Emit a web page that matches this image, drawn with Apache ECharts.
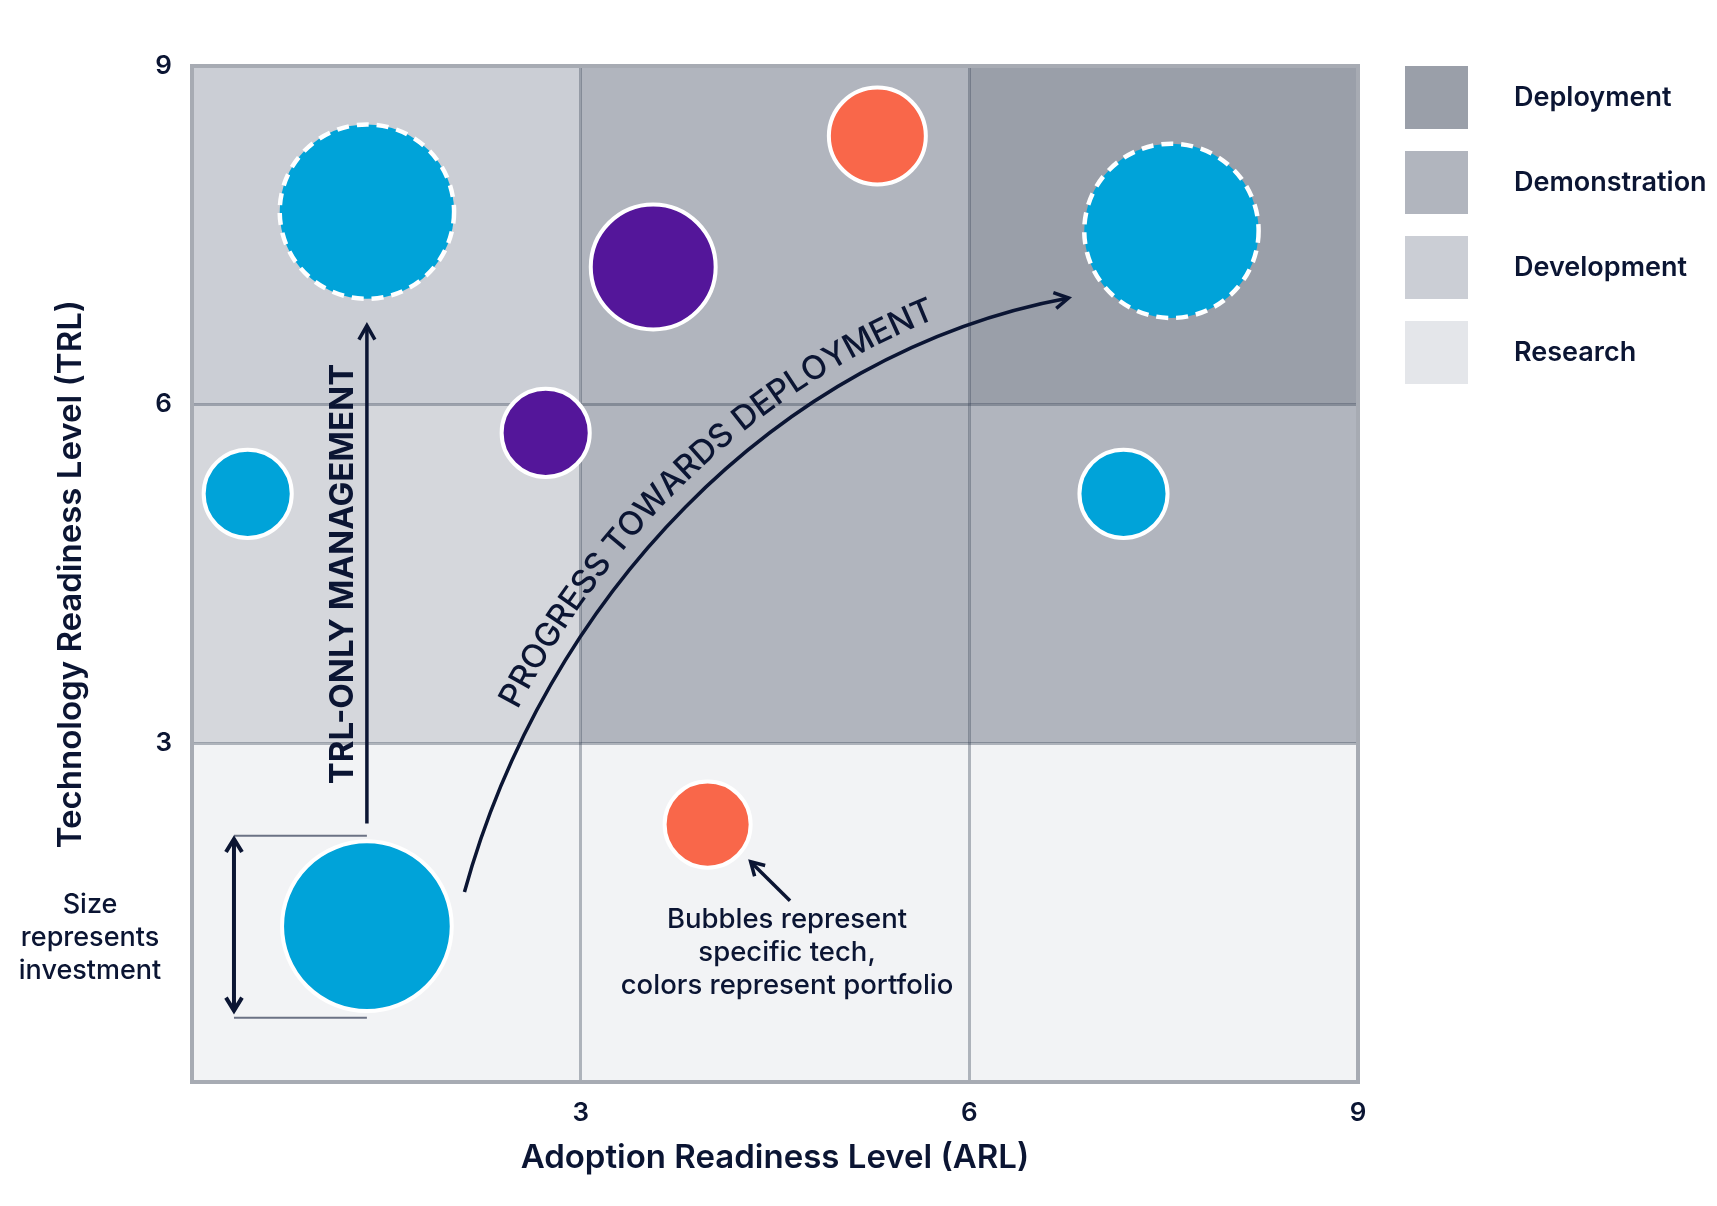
<!DOCTYPE html>
<html><head><meta charset="utf-8">
<style>html,body{margin:0;padding:0;background:#fff}#c{width:1717px;height:1206px}</style>
<script src="https://cdn.jsdelivr.net/npm/echarts@6/dist/echarts.min.js"></script>
</head><body><div id="c"></div>
<script>
// ---------------- data ----------------
const stageNames = ['Deployment', 'Demonstration', 'Development', 'Research'];
// readiness cells: [ARL from, TRL from, ARL to, TRL to, stage]
const cellRanges = [
  [0, 0, 9, 3, 'Research'],
  [0, 3, 3, 6, 'Development'],
  [0, 6, 3, 9, 'Development'],
  [3, 3, 6, 9, 'Demonstration'],
  [6, 3, 9, 6, 'Demonstration'],
  [6, 6, 9, 9, 'Deployment']
];
const tickValues = [3, 6, 9];
const xTickLabels = ['3', '6', '9'];
const yTickLabels = ['3', '6', '9'];
// bubbles (ARL, TRL, investment)
const portfolioA_arl = [0.43, 7.19, 1.35];
const portfolioA_trl = [5.21, 5.21, 1.38];
const portfolioA_inv = [19.4, 19.4, 72];
const portfolioA_target_arl = [1.35, 7.56];
const portfolioA_target_trl = [7.71, 7.54];
const portfolioA_target_inv = [76, 76];
const portfolioB_arl = [3.56, 2.73];
const portfolioB_trl = [7.22, 5.75];
const portfolioB_inv = [39, 19.4];
const portfolioC_arl = [5.29, 3.98];
const portfolioC_trl = [8.38, 2.28];
const portfolioC_inv = [23.5, 18.5];
// annotation anchors (data coordinates)
const trlArrowFrom = [1.35, 2.29], trlArrowTo = [1.35, 6.70];
const trlTextAt = [1.165, 4.5];
const progressCurve = [[2.103, 1.683], [2.713, 4.247], [4.489, 6.461], [6.766, 6.945]];
const noteArrowFrom = [4.616, 1.606], noteArrowTo = [4.312, 1.951];
const noteTextAt = [4.593, 1.146];
const sizeArrowX = 0.324, sizeArrowTop = 2.153, sizeArrowBottom = 0.632;
const sizeGuideTop = 2.182, sizeGuideBottom = 0.570, sizeGuideRight = 1.35;
const sizeTextAt = [-0.787, 1.281];

// ---------------- style ----------------
const INK = '#0b1533';
const FONT = 'Inter';
const stageColors = { Deployment: '#9a9fa9', Demonstration: '#b1b5be', Development: '#cbced5', Research: '#e4e6ea' };
function cellFill(c) {
  if (c[4] === 'Research') return '#f2f3f5';
  if (c[4] === 'Development' && c[3] <= 6) return '#d5d7dc';
  return stageColors[c[4]];
}
const chart = echarts.init(document.getElementById('c'), null, { renderer: 'canvas' });

const stageSeries = stageNames.map(st => ({
  name: st, type: 'scatter', data: [], z: 1, silent: true, animation: false,
  itemStyle: { color: stageColors[st], opacity: 1 },
  markArea: {
    silent: true, animation: false, z: 1,
    data: cellRanges.filter(c => c[4] === st).map(c => [
      { coord: [c[0], c[1]], itemStyle: { color: cellFill(c), borderWidth: 0, opacity: 1 } },
      { coord: [c[2], c[3]] }
    ])
  }
}));

function bubbleSeries(name, arl, trl, inv, color, dashed) {
  return {
    name, type: 'scatter', z: 5, animation: false, silent: true,
    data: arl.map((x, i) => [x, trl[i], inv[i]]),
    symbol: 'circle',
    symbolSize: v => 20 * Math.sqrt(v[2]),
    itemStyle: { color, opacity: 1, borderColor: '#ffffff', borderWidth: dashed ? 4.5 : 4, borderType: dashed ? [12, 8] : 'solid' },
    emphasis: { disabled: true }
  };
}

const axisCommon = {
  type: 'value', min: 0, max: 9, interval: 3, z: 3,
  axisLine: { show: false }, axisTick: { show: false },
  splitLine: { show: true, lineStyle: { color: 'rgba(50,60,80,0.35)', width: 3 } },
  nameLocation: 'middle',
  nameTextStyle: { color: INK, fontSize: 33, fontWeight: 600, fontFamily: FONT }
};

chart.setOption({
  animation: false,
  backgroundColor: '#ffffff',
  textStyle: { fontFamily: FONT },
  grid: { left: 192, right: 359, top: 66, bottom: 124, show: true, z: 4, backgroundColor: 'transparent', borderColor: '#a7abb3', borderWidth: 4 },
  legend: {
    orient: 'vertical', left: 1405, top: 66, padding: 0, itemWidth: 63, itemHeight: 63, itemGap: 22,
    icon: 'rect', selectedMode: false, data: stageNames,
    textStyle: { color: INK, fontSize: 27, fontWeight: 600, fontFamily: FONT, padding: [0, 0, 0, 41] }
  },
  xAxis: Object.assign({}, axisCommon, {
    name: 'Adoption Readiness Level (ARL)', nameGap: 60,
    axisLabel: { color: INK, fontSize: 26, fontWeight: 600, fontFamily: FONT, margin: 18,
      formatter: v => { const i = tickValues.indexOf(v); return i >= 0 ? xTickLabels[i] : ''; } }
  }),
  yAxis: Object.assign({}, axisCommon, {
    name: 'Technology Readiness Level (TRL)', nameGap: 104,
    axisLabel: { color: INK, fontSize: 26, fontWeight: 600, fontFamily: FONT, margin: 20,
      formatter: v => { const i = tickValues.indexOf(v); return i >= 0 ? yTickLabels[i] : ''; } }
  }),
  series: stageSeries.concat([
    bubbleSeries('Portfolio A', portfolioA_arl, portfolioA_trl, portfolioA_inv, '#00a3d9', false),
    bubbleSeries('Portfolio A target', portfolioA_target_arl, portfolioA_target_trl, portfolioA_target_inv, '#00a3d9', true),
    bubbleSeries('Portfolio B', portfolioB_arl, portfolioB_trl, portfolioB_inv, '#54169a', false),
    bubbleSeries('Portfolio C', portfolioC_arl, portfolioC_trl, portfolioC_inv, '#f9674a', false)
  ])
});

// ---------------- annotations ----------------
const px = p => chart.convertToPixel({ gridIndex: 0 }, p);
const els = [];
function line(a, b, color, lw) {
  els.push({ type: 'line', z: 10, silent: true, shape: { x1: a[0], y1: a[1], x2: b[0], y2: b[1] }, style: { stroke: color, lineWidth: lw, lineCap: 'butt' } });
}
function chevron(tip, dir, L, W, lw) {
  const nx = -dir[1], ny = dir[0];
  const b = [tip[0] - L * dir[0], tip[1] - L * dir[1]];
  els.push({ type: 'polyline', z: 11, silent: true,
    shape: { points: [[b[0] + W * nx, b[1] + W * ny], tip, [b[0] - W * nx, b[1] - W * ny]] },
    style: { stroke: INK, lineWidth: lw, fill: null, lineJoin: 'miter', lineCap: 'butt' } });
}
function unit(a, b) { const dx = b[0] - a[0], dy = b[1] - a[1], l = Math.hypot(dx, dy); return [dx / l, dy / l]; }
function text(str, at, font, rotation, lineHeight) {
  els.push({ type: 'text', z: 12, silent: true, x: at[0], y: at[1], rotation: rotation || 0,
    style: { text: str, x: 0, y: 0, font, fill: INK, align: 'center', verticalAlign: 'middle', textAlign: 'center', textVerticalAlign: 'middle', lineHeight: lineHeight || undefined } });
}

// TRL-only arrow
const ta = px(trlArrowFrom), tb = px(trlArrowTo);
const tdir = unit(ta, tb);
line(ta, [tb[0] - 2 * tdir[0], tb[1] - 2 * tdir[1]], INK, 3.5);
chevron(tb, tdir, 14, 8, 3.5);
text('TRL-ONLY MANAGEMENT', px(trlTextAt), '700 33px ' + FONT, Math.PI / 2);

// progress curve
const cp = progressCurve.map(px);
els.push({ type: 'bezierCurve', z: 10, silent: true,
  shape: { x1: cp[0][0], y1: cp[0][1], cpx1: cp[1][0], cpy1: cp[1][1], cpx2: cp[2][0], cpy2: cp[2][1], x2: cp[3][0], y2: cp[3][1] },
  style: { stroke: INK, lineWidth: 3.5, fill: null } });
chevron(cp[3], unit(cp[2], cp[3]), 14, 8, 3.5);

// text along the curve
(function () {
  const str = 'PROGRESS TOWARDS DEPLOYMENT';
  const font = '500 33px ' + FONT;
  const ctx = document.createElement('canvas').getContext('2d');
  ctx.font = font;
  const N = 600, off = 27;
  const pts = [], angs = [];
  for (let i = 0; i <= N; i++) {
    const t = i / N, u = 1 - t;
    const x = u*u*u*cp[0][0] + 3*u*u*t*cp[1][0] + 3*u*t*t*cp[2][0] + t*t*t*cp[3][0];
    const y = u*u*u*cp[0][1] + 3*u*u*t*cp[1][1] + 3*u*t*t*cp[2][1] + t*t*t*cp[3][1];
    const dx = 3*(u*u*(cp[1][0]-cp[0][0]) + 2*u*t*(cp[2][0]-cp[1][0]) + t*t*(cp[3][0]-cp[2][0]));
    const dy = 3*(u*u*(cp[1][1]-cp[0][1]) + 2*u*t*(cp[2][1]-cp[1][1]) + t*t*(cp[3][1]-cp[2][1]));
    const l = Math.hypot(dx, dy), tx = dx / l, ty = dy / l;
    pts.push([x + off * ty, y - off * tx]);
    angs.push(Math.atan2(ty, tx));
  }
  const cum = [0];
  for (let i = 1; i <= N; i++) cum.push(cum[i - 1] + Math.hypot(pts[i][0] - pts[i-1][0], pts[i][1] - pts[i-1][1]));
  const widths = Array.from(str).map(ch => ctx.measureText(ch).width);
  const total = widths.reduce((a, b) => a + b, 0);
  let s = cum[N / 2] - total / 2 + 27;
  function at(sv) {
    let i = 0; while (i < N - 1 && cum[i + 1] < sv) i++;
    const f = (sv - cum[i]) / (cum[i + 1] - cum[i]);
    return [pts[i][0] + f * (pts[i+1][0] - pts[i][0]), pts[i][1] + f * (pts[i+1][1] - pts[i][1]), angs[i] + f * (angs[i+1] - angs[i])];
  }
  Array.from(str).forEach((ch, k) => {
    const p = at(s + widths[k] / 2);
    s += widths[k];
    if (ch === ' ') return;
    text(ch, [p[0], p[1]], font, -p[2]);
  });
})();

// bubble note
const na = px(noteArrowFrom), nb = px(noteArrowTo);
const ndir = unit(na, nb);
line(na, [nb[0] - 2 * ndir[0], nb[1] - 2 * ndir[1]], INK, 3.5);
chevron(nb, ndir, 13, 7.5, 3.5);
text('Bubbles represent\nspecific tech,\ncolors represent portfolio', px(noteTextAt), '500 27.5px ' + FONT, 0, 33);

// size note
const gA = px([sizeArrowX, sizeGuideTop]), gB = px([sizeGuideRight, sizeGuideTop]);
const gC = px([sizeArrowX, sizeGuideBottom]), gD = px([sizeGuideRight, sizeGuideBottom]);
line(gA, gB, '#6b7284', 2);
line(gC, gD, '#6b7284', 2);
const sa = px([sizeArrowX, sizeArrowTop]), sb = px([sizeArrowX, sizeArrowBottom]);
line([sa[0], sa[1] + 3], [sb[0], sb[1] - 3], INK, 4);
chevron(sa, [0, -1], 13, 8, 4);
chevron(sb, [0, 1], 13, 8, 4);
text('Size\nrepresents\ninvestment', px(sizeTextAt), '500 27px ' + FONT, 0, 33);

chart.setOption({ graphic: { elements: els } });
</script>
</body></html>
